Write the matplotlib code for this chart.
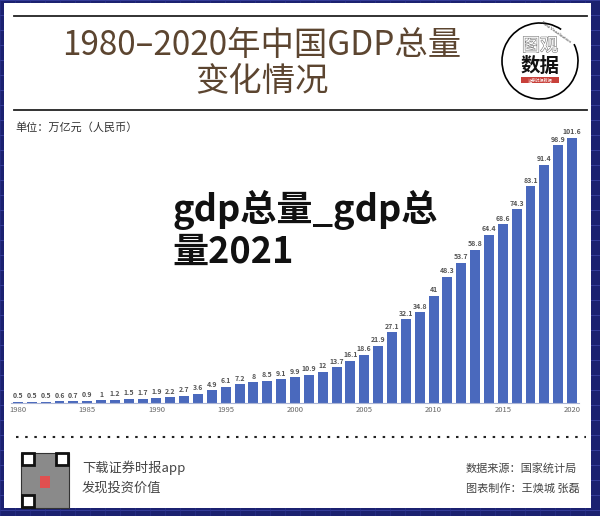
import matplotlib
matplotlib.use("Agg")
import matplotlib.pyplot as plt
import matplotlib.patheffects as pe
from matplotlib.patches import Rectangle, Arc

plt.rcParams["font.family"] = ["Noto Sans CJK SC", "DejaVu Sans"]

# data: GDP of China, 1980-2020 (万亿元)
years = list(range(1980, 2021))
gdp = [0.5, 0.5, 0.5, 0.6, 0.7, 0.9, 1, 1.2, 1.5, 1.7,
       1.9, 2.2, 2.7, 3.6, 4.9, 6.1, 7.2, 8, 8.5, 9.1,
       9.9, 10.9, 12, 13.7, 16.1, 18.6, 21.9, 27.1, 32.1, 34.8,
       41, 48.3, 53.7, 58.8, 64.4, 68.6, 74.3, 83.1, 91.4, 98.9,
       101.6]
tick_years = [1980, 1985, 1990, 1995, 2000, 2005, 2010, 2015, 2020]

W, H = 600, 516
fig = plt.figure(figsize=(6, 5.16), dpi=100, facecolor="#1b2170")


def fx(x):
    return x / W


def fy(y):
    return 1 - y / H


# navy background grid (behind everything)
for gy in range(0, H, 15):
    fig.add_artist(plt.Line2D([0, 1], [fy(gy), fy(gy)], color="#3a42a0", lw=0.6, zorder=-3))
for gx in range(0, W, 15):
    fig.add_artist(plt.Line2D([fx(gx), fx(gx)], [0, 1], color="#2c3390", lw=0.4, zorder=-3))

# white card
fig.add_artist(Rectangle((fx(4), fy(508)), fx(587), 505 / H, transform=fig.transFigure,
                         facecolor="white", edgecolor="none", zorder=-2))

# header rules and title
for ry in (16, 110):
    fig.add_artist(plt.Line2D([fx(14), fx(587)], [fy(ry), fy(ry)], color="#222222", lw=1.3))
fig.text(fx(262), fy(45), "1980–2020年中国GDP总量", ha="center", va="center",
         fontsize=24, color="#5c4530", fontweight="medium")
fig.text(fx(262), fy(81), "变化情况", ha="center", va="center",
         fontsize=24, color="#5c4530", fontweight="medium")

# logo
fig.add_artist(Arc((fx(540), fy(61)), 76 / W, 76 / H, theta1=60, theta2=390,
                   transform=fig.transFigure, color="black", lw=1.2))
fig.text(fx(540), fy(46), "图观", ha="center", va="center", fontsize=13,
         color="white", fontweight="light",
         path_effects=[pe.withStroke(linewidth=0.8, foreground="#777777")])
fig.text(fx(540), fy(66), "数据", ha="center", va="center", fontsize=14,
         color="#111111", fontweight="bold")
fig.add_artist(Rectangle((fx(521), fy(83)), 38 / W, 6 / H, transform=fig.transFigure,
                         facecolor="#c8403a", edgecolor="none"))
fig.text(fx(540), fy(80), "证券时报数据", ha="center", va="center", fontsize=3, color="white")
fig.text(fx(556), fy(32), "Data Visualization", ha="center", va="center", fontsize=3,
         color="#333333", rotation=-35)

fig.text(fx(15), fy(127), "单位：万亿元（人民币）", ha="left", va="center",
         fontsize=8, color="#333333")

# bar chart
ax = fig.add_axes([fx(11), fy(403), 568 / W, 273 / H])
x = list(range(len(years)))
ax.bar(x, gdp, width=0.72, color="#4a69bd")
for i, v in zip(x, gdp):
    ax.text(i, v + 1.0, f"{v:g}", ha="center", va="bottom", fontsize=5,
            color="#555555", fontweight="bold", clip_on=False)
ax.set_xlim(-0.5, len(years) - 0.5)
ax.set_ylim(0, 104.7)
ax.set_xticks([years.index(t) for t in tick_years])
ax.set_xticklabels([str(t) for t in tick_years], fontsize=5.5, color="#666666")
ax.tick_params(axis="x", length=0, pad=2)
ax.set_yticks([])
for s in ("top", "right", "left"):
    ax.spines[s].set_visible(False)
ax.spines["bottom"].set_color("#aab4d4")
ax.set_facecolor("none")

# watermark text
fig.text(fx(172), fy(210), "gdp总量_gdp总", ha="left", va="center",
         fontsize=26, color="#111111", fontweight="bold")
fig.text(fx(172), fy(252), "量2021", ha="left", va="center",
         fontsize=26, color="#111111", fontweight="bold")

# footer
fig.add_artist(plt.Line2D([fx(16), fx(586)], [fy(437), fy(437)], color="#222222",
                          lw=1.5, ls=(0, (1.2, 3.2))))
fig.add_artist(Rectangle((fx(21), fy(508)), 48 / W, 55 / H, transform=fig.transFigure,
                         facecolor="#8a8a8a", edgecolor="#333333", lw=0.8))
for qx, qy in ((22, 453), (56, 453), (22, 495)):
    fig.add_artist(Rectangle((fx(qx), fy(qy + 12)), 12 / W, 12 / H, transform=fig.transFigure,
                             facecolor="white", edgecolor="#111111", lw=2))
fig.add_artist(Rectangle((fx(40), fy(488)), 10 / W, 12 / H, transform=fig.transFigure,
                         facecolor="#e05050", edgecolor="none"))

fig.text(fx(82), fy(468), "下载证券时报app", ha="left", va="center", fontsize=9.5, color="#444444")
fig.text(fx(82), fy(488), "发现投资价值", ha="left", va="center", fontsize=9.5, color="#444444")
fig.text(fx(466), fy(468), "数据来源：国家统计局", ha="left", va="center", fontsize=8, color="#444444")
fig.text(fx(466), fy(488), "图表制作：王焕城 张磊", ha="left", va="center", fontsize=8, color="#444444")

fig.savefig("out.png", dpi=100, facecolor=fig.get_facecolor())
